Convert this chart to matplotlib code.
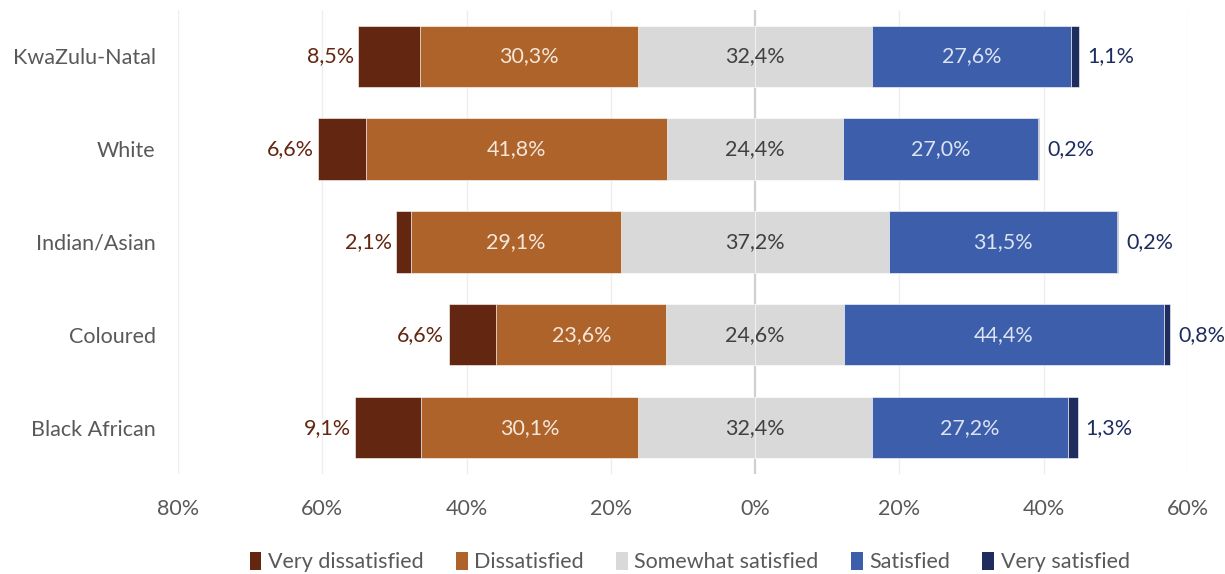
import matplotlib
matplotlib.use("Agg")
import matplotlib.pyplot as plt
from matplotlib.patches import Patch
import numpy as np

plt.rcParams["font.family"] = ["Lato", "DejaVu Sans"]

groups = ["Black African", "Coloured", "Indian/Asian", "White", "KwaZulu-Natal"]
very_dissatisfied = [9.1, 6.6, 2.1, 6.6, 8.5]
dissatisfied = [30.1, 23.6, 29.1, 41.8, 30.3]
somewhat_satisfied = [32.4, 24.6, 37.2, 24.4, 32.4]
satisfied = [27.2, 44.4, 31.5, 27.0, 27.6]
very_satisfied = [1.3, 0.8, 0.2, 0.2, 1.1]

series_names = ["Very dissatisfied", "Dissatisfied", "Somewhat satisfied",
                "Satisfied", "Very satisfied"]
colors = ["#632611", "#AD632A", "#D9D9D9", "#3C5EAB", "#1F2D5E"]
xticks = [-80, -60, -40, -20, 0, 20, 40, 60]


def fmt(v):
    return f"{v:.1f}%".replace(".", ",")


fig = plt.figure(figsize=(12.25, 5.74), dpi=100)
ax = fig.add_axes([0.1453, 0.174, 0.8245, 0.809])

y = np.arange(len(groups))
vd = np.array(very_dissatisfied)
d = np.array(dissatisfied)
s = np.array(somewhat_satisfied)
sa = np.array(satisfied)
vs = np.array(very_satisfied)

h = 0.66
ec = dict(edgecolor="white", linewidth=0.4)
# left side: half of the neutral block, then dissatisfied, then very dissatisfied
ax.barh(y, -s / 2, height=h, color=colors[2], **ec)
ax.barh(y, s / 2, height=h, color=colors[2], **ec)
ax.barh(y, -d, left=-s / 2, height=h, color=colors[1], **ec)
ax.barh(y, -vd, left=-s / 2 - d, height=h, color=colors[0], **ec)
# right side
ax.barh(y, sa, left=s / 2, height=h, color=colors[3], **ec)
ax.barh(y, vs, left=s / 2 + sa, height=h, color=colors[4], **ec)

fs = 15.5
for i in range(len(groups)):
    left_end = -s[i] / 2 - d[i] - vd[i]
    right_end = s[i] / 2 + sa[i] + vs[i]
    ax.text(left_end - 0.6, y[i], fmt(vd[i]), ha="right", va="center",
            color="#632611", fontsize=fs)
    ax.text(-s[i] / 2 - d[i] / 2, y[i], fmt(d[i]), ha="center", va="center",
            color="#F5E6DA", fontsize=fs)
    ax.text(0, y[i], fmt(s[i]), ha="center", va="center",
            color="#404040", fontsize=fs)
    ax.text(s[i] / 2 + sa[i] / 2, y[i], fmt(sa[i]), ha="center", va="center",
            color="#DCE3F2", fontsize=fs)
    ax.text(right_end + 1.1, y[i], fmt(vs[i]), ha="left", va="center",
            color="#1F2D5E", fontsize=fs)

ax.set_xlim(-80, 60)
ax.set_ylim(-0.5, 4.5)
ax.set_xticks(xticks)
ax.set_xticklabels([f"{abs(t)}%" for t in xticks])
ax.set_yticks(y)
ax.set_yticklabels(groups)
ax.tick_params(axis="both", length=0, labelsize=fs, colors="#595959")
ax.tick_params(axis="x", pad=18)
ax.tick_params(axis="y", pad=16)

for t in xticks:
    ax.axvline(t, color="#D0D0D0" if t == 0 else "#EFEFEF",
               linewidth=1.6 if t == 0 else 1.0, zorder=0)
for sp in ax.spines.values():
    sp.set_visible(False)

handles = [Patch(facecolor=c, edgecolor="none") for c in colors]
leg = fig.legend(handles, series_names, loc="center", ncol=5,
                 bbox_to_anchor=(0.563, 0.021), frameon=False, fontsize=fs,
                 handlelength=0.55, handleheight=0.9, handletextpad=0.3,
                 columnspacing=1.5)
for t in leg.get_texts():
    t.set_color("#595959")

fig.savefig("out.png", dpi=100)
